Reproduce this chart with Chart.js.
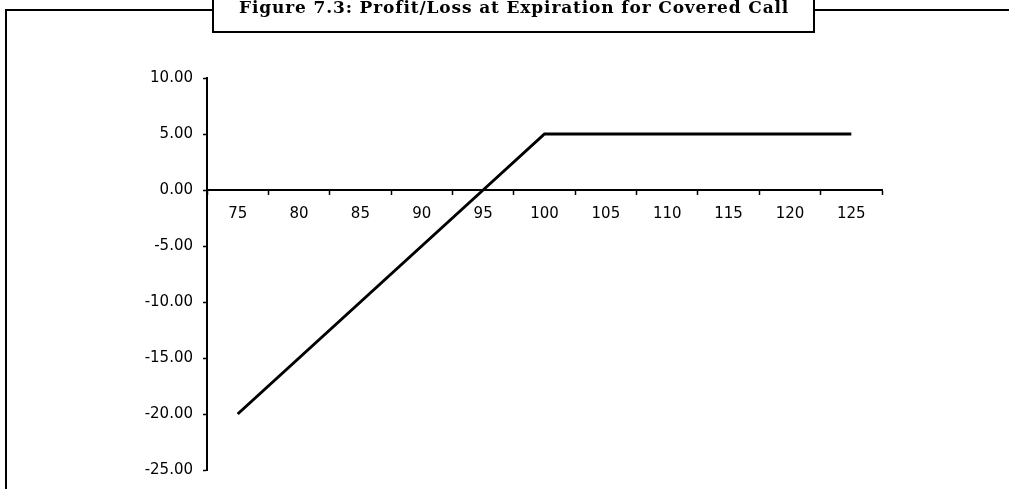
<!DOCTYPE html>
<html>
<head>
<meta charset="utf-8">
<script src="https://cdn.jsdelivr.net/npm/chart.js@4"></script>
<style>
  html, body { margin: 0; padding: 0; background: #fff; }
  #wrap { position: relative; width: 1009px; height: 489px; }
</style>
</head>
<body>
<div id="wrap"><canvas id="chart"></canvas></div>
<script>
const titleText = 'Figure 7.3: Profit/Loss at Expiration for Covered Call';
const strikePrices = ['75', '80', '85', '90', '95', '100', '105', '110', '115', '120', '125'];
const profitLoss = [-20, -15, -10, -5, 0, 5, 5, 5, 5, 5, 5];
const yMin = -25;
const yMax = 10;
const yStep = 5;

const ink = '#000';

// frame with the title box cut into the top edge
const framePlugin = {
  id: 'frame',
  beforeDraw(chart) {
    const { ctx } = chart;
    ctx.save();
    ctx.strokeStyle = ink;
    ctx.lineWidth = 2;
    ctx.beginPath();
    ctx.moveTo(6, 489);
    ctx.lineTo(6, 10);
    ctx.lineTo(213, 10);
    ctx.moveTo(814, 10);
    ctx.lineTo(1009, 10);
    ctx.stroke();

    ctx.strokeRect(213, -5, 601, 37);

    ctx.font = 'bold 17px "DejaVu Serif", serif';
    ctx.fillStyle = ink;
    ctx.textBaseline = 'alphabetic';
    ctx.textAlign = 'left';
    const target = 548;
    if ('letterSpacing' in ctx) {
      ctx.letterSpacing = '0px';
      const w = ctx.measureText(titleText).width;
      const sp = (target - w) / (titleText.length - 1);
      ctx.letterSpacing = sp.toFixed(2) + 'px';
    }
    ctx.fillText(titleText, 239, 13);
    ctx.restore();
  },
};

const init = () => {
  new Chart(document.getElementById('chart').getContext('2d'), {
    type: 'line',
    data: {
      labels: strikePrices,
      datasets: [{
        label: 'Profit/Loss',
        data: profitLoss,
        borderColor: ink,
        borderWidth: 3,
        pointRadius: 0,
        tension: 0,
        fill: false,
      }],
    },
    options: {
      responsive: true,
      maintainAspectRatio: false,
      animation: false,
      layout: { padding: { left: 0, top: 78, right: 127, bottom: 15 } },
      plugins: {
        legend: { display: false },
        tooltip: { enabled: false },
      },
      scales: {
        x: {
          type: 'category',
          position: { y: 0 },
          offset: true,
          grid: {
            offset: true,
            drawOnChartArea: false,
            drawTicks: true,
            tickLength: 4,
            tickWidth: 1.5,
            color: ink,
          },
          border: { display: true, color: ink, width: 2 },
          ticks: {
            color: ink,
            padding: 11,
            maxRotation: 0,
            autoSkip: false,
            font: { family: '"DejaVu Sans", sans-serif', size: 15 },
          },
        },
        y: {
          min: yMin,
          max: yMax,
          grid: {
            drawOnChartArea: false,
            drawTicks: true,
            tickLength: 4,
            tickWidth: 1.5,
            color: ink,
          },
          border: { display: true, color: ink, width: 2 },
          ticks: {
            stepSize: yStep,
            color: ink,
            padding: 10,
            font: { family: '"DejaVu Sans", sans-serif', size: 15 },
            callback: (v) => Number(v).toFixed(2),
          },
          afterFit: (scale) => { scale.width = 207; },
        },
      },
    },
    plugins: [framePlugin],
  });
};

document.addEventListener('DOMContentLoaded', init);
</script>
</body>
</html>
